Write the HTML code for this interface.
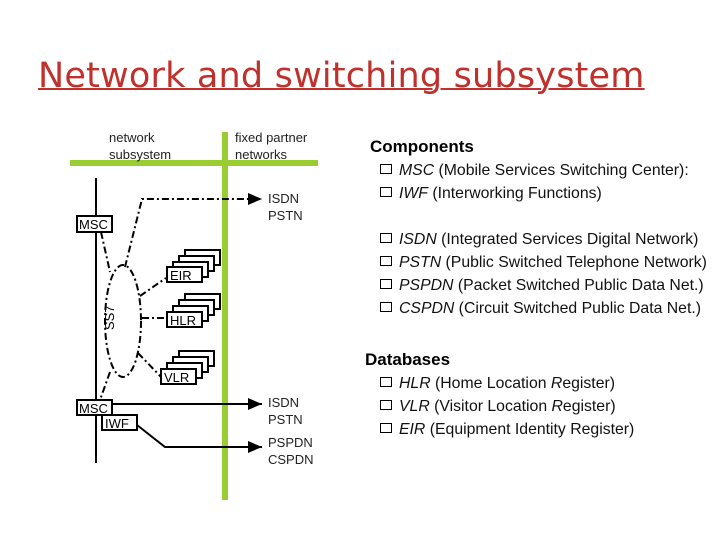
<!DOCTYPE html>
<html><head><style>
body{margin:0;width:720px;height:540px;background:#fff;overflow:hidden;position:relative;font-family:"Liberation Sans",sans-serif}
.t{position:absolute;left:38px;top:56px;font-family:"DejaVu Sans",sans-serif;font-size:35px;color:#c0302c;text-decoration:underline;text-decoration-thickness:2px;white-space:nowrap;letter-spacing:0.2px}
.h{position:absolute;font-weight:bold;font-size:17px;color:#000}
.li{position:absolute;left:380px;font-size:15.8px;white-space:nowrap;color:#111}
.li:before{content:"";display:inline-block;width:10px;height:8px;border:1.5px solid #000;margin-right:7px;vertical-align:1px}
</style></head><body>
<div class="t">Network and switching subsystem</div>
<svg width="720" height="540" style="position:absolute;left:0;top:0" font-family="Liberation Sans, sans-serif" font-size="13">
<defs><marker id="a" markerWidth="8" markerHeight="8" refX="7" refY="4" orient="auto"><path d="M0,1 L7,4 L0,7 Z" fill="#000"/></marker></defs>
<rect x="70" y="160" width="248" height="6" fill="#9acd32"/>
<rect x="222" y="132" width="6" height="368" fill="#9acd32"/>
<text x="109" y="142" fill="#222">network</text><text x="109" y="159" fill="#222">subsystem</text>
<text x="235" y="142" fill="#222">fixed partner</text><text x="235" y="159" fill="#222">networks</text>
<line x1="96" y1="178" x2="96" y2="463" stroke="#000" stroke-width="2"/>
<g fill="none" stroke="#000" stroke-width="2" stroke-dasharray="7,3,2,3">
<ellipse cx="123" cy="321" rx="18" ry="56"/>
<polyline points="125,267 142,199 262,199" marker-end="url(#a)"/>
<line x1="101" y1="232" x2="110" y2="272"/>
<line x1="110" y1="372" x2="100" y2="400"/>
<line x1="140" y1="296" x2="166" y2="278"/>
<line x1="142" y1="318" x2="167" y2="318"/>
<line x1="138" y1="353" x2="162" y2="378"/>
</g>
<g fill="#fff" stroke="#000" stroke-width="2">
<rect x="185" y="250" width="35" height="15"/><rect x="179" y="256" width="35" height="15"/><rect x="173" y="262" width="35" height="15"/><rect x="167" y="267" width="35" height="15"/>
<rect x="185" y="294" width="35" height="15"/><rect x="179" y="300" width="35" height="15"/><rect x="173" y="306" width="35" height="15"/><rect x="167" y="312" width="35" height="15"/>
<rect x="179" y="351" width="35" height="15"/><rect x="173" y="357" width="35" height="15"/><rect x="167" y="363" width="35" height="15"/><rect x="161" y="369" width="35" height="15"/>
<rect x="77" y="216" width="35" height="16"/>
<rect x="77" y="400" width="35" height="15"/>
<rect x="102" y="415" width="35" height="15"/>
</g>
<text x="170" y="280">EIR</text><text x="170" y="325">HLR</text><text x="164" y="382">VLR</text>
<text x="79" y="229">MSC</text><text x="79" y="413">MSC</text><text x="105" y="428">IWF</text>
<text x="0" y="0" transform="translate(114,330) rotate(-90)">SS7</text>
<line x1="112" y1="404" x2="262" y2="404" stroke="#000" stroke-width="2" marker-end="url(#a)"/>
<polyline points="137,425 165,447 262,447" fill="none" stroke="#000" stroke-width="2" marker-end="url(#a)"/>
<text x="268" y="203" fill="#222">ISDN</text><text x="268" y="220" fill="#222">PSTN</text>
<text x="268" y="407" fill="#222">ISDN</text><text x="268" y="424" fill="#222">PSTN</text>
<text x="268" y="447" fill="#222">PSPDN</text><text x="268" y="464" fill="#222">CSPDN</text>
</svg>
<div class="h" style="left:370px;top:137px">Components</div>
<div class="li" style="top:162px"><i>MSC</i> (Mobile Services Switching Center):</div>
<div class="li" style="top:185px"><i>IWF</i> (Interworking Functions)</div>
<div class="li" style="top:231px"><i>ISDN</i> (Integrated Services Digital Network)</div>
<div class="li" style="top:254px"><i>PSTN</i> (Public Switched Telephone Network)</div>
<div class="li" style="top:277px"><i>PSPDN</i> (Packet Switched Public Data Net.)</div>
<div class="li" style="top:300px"><i>CSPDN</i> (Circuit Switched Public Data Net.)</div>
<div class="h" style="left:365px;top:350px">Databases</div>
<div class="li" style="top:375px"><i>HLR</i> (Home Location <i>R</i>egister)</div>
<div class="li" style="top:398px"><i>VLR</i> (Visitor Location <i>R</i>egister)</div>
<div class="li" style="top:421px"><i>EIR</i> (Equipment Identity Register)</div>
</body></html>
